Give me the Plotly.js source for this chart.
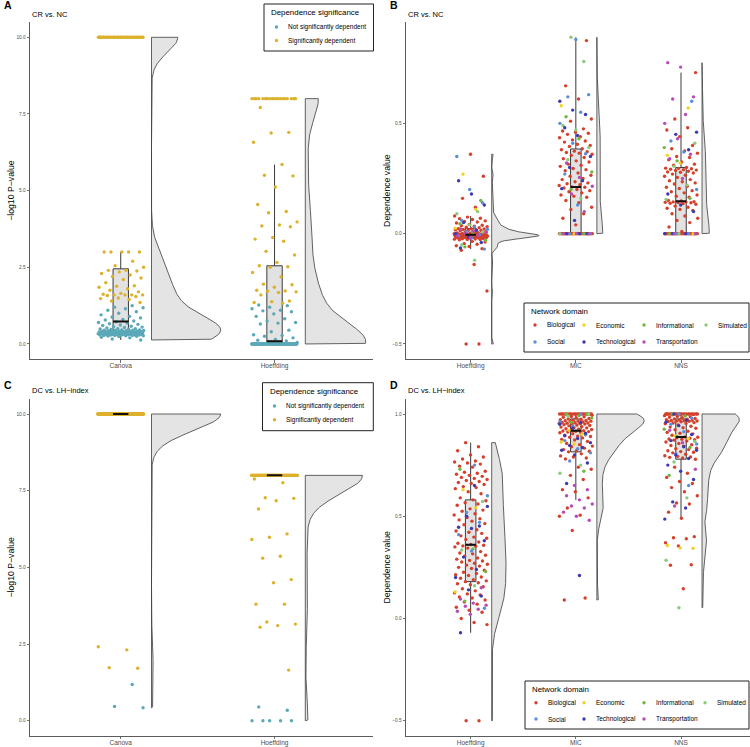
<!DOCTYPE html>
<html><head><meta charset="utf-8">
<script src="https://cdn.plot.ly/plotly-3.0.1.min.js"></script>
<style>html,body{margin:0;padding:0;background:#fff}#chart{width:750px;height:747px}</style>
</head><body><div id="chart"></div>
<script>
// ---------- categories / labels ----------
const pvalMethods = ['Canova', 'Hoeffding'];
const depMethods = ['Hoeffding', 'MIC', 'NNS'];
const sigLevels = ['Not significantly dependent', 'Significantly dependent'];
const domains = ['Biological', 'Economic', 'Informational', 'Simulated', 'Social', 'Technological', 'Transportation'];
const pTickVals = [0, 2.5, 5, 7.5, 10];
const pTickText = ['0.0', '2.5', '5.0', '7.5', '10.0'];
const bTickVals = [-0.5, 0, 0.5];
const bTickText = ['\u22120.5', '0.0', '0.5'];
const dTickVals = [-0.5, 0, 0.5, 1];
const dTickText = ['\u22120.5', '0.0', '0.5', '1.0'];

// ---------- Panel A: CR vs. NC, -log10 P-value ----------
const aCanovaSig = [10,10,10,10,10,10,10,10,10,10,10,10,10,10,10,10,10,10,10,10,10,10,10,10,10,10,10,10,10,10,10,10,10,10,10,
3,3,3,3,3,2.7,2.55,2.5,2.4,2.4,2.38,2.35,2.3,2.25,2.2,2.15,2.1,2.0,1.9,1.88,1.85,1.8,1.75,1.7,1.65,1.62,1.6,1.6,1.6,1.6,1.58,1.55,1.5,1.48,1.45,1.4,1.35];
const aCanovaNotSig = [1.25,1.2,1.18,1.15,1.1,1.05,1.0,0.95,0.9,0.88,0.85,0.8,0.78,0.75,
0.72,0.7,0.68,0.66,0.64,0.62,0.6,0.58,0.56,0.55,0.54,0.52,0.5,0.5,0.49,0.48,0.47,0.46,0.46,0.45,0.45,0.44,0.44,0.43,0.43,0.42,0.42,0.42,0.41,0.41,0.41,0.4,0.4,0.4,0.4,0.39,0.39,0.39,0.38,0.38,0.38,0.37,0.37,
0.36,0.36,0.36,0.35,0.35,0.35,0.35,0.34,0.34,0.34,0.34,0.33,0.33,0.33,0.33,0.32,0.32,0.32,0.32,0.31,0.31,0.31,0.31,0.3,0.3,0.3,0.3,0.3,0.29,0.29,0.29,0.28,0.28,0.28,0.27,0.27,0.26,0.25,0.24,0.22,0.2,0.16,0.13];
const aHoeffSig = [8,8,8,8,8,8,8,8,8,8,8,8,8,8,8,8,8,8,8,
7.71,6.9,6.88,6.58,5.85,5.5,5.48,5.12,4.55,4.32,4.28,3.98,3.88,3.85,3.82,3.47,3.42,3.35,3.02,2.9,2.66,2.55,2.52,2.5,
2.33,2.19,1.95,1.93,1.85,1.75,1.73,1.72,1.7,1.68,1.6,1.4,1.38,1.35,1.33];
const aHoeffNotSig = [1.27,1.25,1.2,1.15,1.1,1.08,1.05,0.98,0.9,0.82,0.75,0.7,0.68,0.65,0.45,0.4,0.3,0.28,0.25,0.2,0.15,0.12,0.1,0.08,0.05,
0,0,0,0,0,0,0,0,0,0,0,0,0,0,0,0,0,0,0,0,0,0,0,0,0,0,0,0,0,0,0,0,0,0,0,0,0,0,0,0,0,0,0,0,0,0,0,0,0,0,0,0,0,0,0,0,0,0,0,0,0,0,0,0,0,0,0,0,0,0,0,0,0,0,0,0,0,0,0];

// ---------- Panel C: DC vs. LH-index, -log10 P-value ----------
const cCanovaSig = [10,10,10,10,10,10,10,10,10,10,10,10,10,10,10,10,10,10,10,10,10,10,10,10,10,10,10,10,10,10,10,10,10,10,10,10,10,10,10,10,
10,10,10,10,10,10,10,10,10,10,10,10,10,10,10,10,10,10,10,10,10,10,10,10,10,10,10,10,10,10,10,10,10,10,10,10,10,10,10,10,
10,10,10,10,10,10,10,10,10,10,10,10,10,10,10,10,10,10,10,10,10,10,10,10,10,10,10,10,10,10,10,10,10,10,10,10,10,10,10,10,
10,10,10,10,10,10,10,10,10,10,10,10,10,10,10,10,10,10,10,10,10,10,10,10,10,10,10,10,10,10,10,10,10,10,10,10,10,10,10,10,
10,10,10,10,10,2.41,2.31,1.73,1.71];
const cCanovaNotSig = [1.18,0.46,0.42];
const cHoeffSig = [8,8,8,8,8,8,8,8,8,8,8,8,8,8,8,8,8,8,8,8,8,8,8,8,8,8,8,8,8,8,8,8,8,8,8,8,8,8,8,8,
8,8,8,8,8,8,8,8,8,8,8,8,8,8,8,8,8,8,8,8,8,8,8,8,8,8,8,8,8,8,8,8,8,8,8,8,8,8,8,8,
8,8,8,8,8,8,8,8,8,8,8,8,8,8,8,8,8,8,8,8,8,8,8,8,8,8,8,8,8,8,8,8,8,8,8,8,8,8,8,8,
8,8,8,8,8,8,8,8,8,8,8,8,8,8,8,8,8,8,8,8,8,8,8,8,8,
7.88,7.76,7.27,7.25,7.17,6.9,6.09,5.98,5.91,5.36,5.3,4.6,4.5,3.8,3.8,3.22,3.15,3.1,3.05,1.65];
const cHoeffNotSig = [0.45,0.34,0,0,0,0,0];

// ---------- Panel B: CR vs. NC, dependence values by network domain ----------
const bHoefBio = [-0.5,-0.5,-0.26,-0.14,-0.075,-0.068,-0.058,-0.055,-0.048,-0.045,-0.038,-0.035,
-0.028,-0.027,-0.026,-0.025,-0.024,-0.023,-0.022,-0.021,-0.019,-0.019,-0.018,-0.018,-0.017,-0.017,-0.016,-0.016,
-0.015,-0.014,-0.014,-0.014,-0.013,-0.013,-0.013,-0.012,-0.012,-0.012,-0.011,-0.011,-0.011,-0.01,-0.01,-0.009,-0.009,-0.009,-0.009,-0.008,-0.008,-0.008,-0.007,-0.007,-0.007,-0.007,-0.006,-0.006,-0.006,-0.006,-0.006,-0.005,-0.005,
-0.005,-0.004,-0.004,-0.003,-0.003,-0.002,-0.002,-0.001,-0.001,0,0.001,0.001,0.002,0.002,0.003,0.004,0.007,0.009,0.011,0.013,0.014,0.016,0.017,0.018,0.019,0.021,0.022,
0.023,0.027,0.029,0.032,0.034,0.036,0.038,0.042,0.048,0.053,0.055,0.058,0.064,0.068,0.07,0.075,0.08,0.12,0.16,0.26,0.36];
const bHoefEco = [0.025,0.11,0.27];
const bHoefInf = [-0.06,-0.03,0.005,0.045,0.15];
const bHoefSim = [-0.12,-0.05,0.008,0.04,0.09,0.1];
const bHoefSoc = [-0.07,-0.02,-0.01,-0.005,0.01,0.02,0.03,0.06,0.14,0.2,0.35];
const bHoefTec = [-0.065,-0.04,-0.015,0,0.015,0.05,0.13,0.18,0.24];
const bHoefTra = [-0.02,-0.01,-0.008,0,0.006,0.012,0.021];

const bMicBio = [0,0,0,0,0,0,0,0,0,0,0,0,0,0,0,0,0,0,0,0,0,0,0,0,0,0,0,0,0,0,0,0,0,0,0,0,0,0,0,0,0,
0.04,0.07,0.09,0.11,0.12,0.14,0.15,0.165,0.17,0.175,0.185,0.19,0.195,0.2,0.207,0.21,
0.212,0.218,0.222,0.226,0.23,0.235,0.245,0.25,0.26,0.265,0.275,0.285,0.29,0.295,0.305,0.31,0.315,0.325,0.33,0.34,0.345,0.355,0.36,0.365,0.368,0.371,0.374,
0.38,0.385,0.395,0.4,0.405,0.415,0.42,0.425,0.435,0.44,0.45,0.455,0.46,0.465,0.475,0.51,0.52,0.61,0.67,0.875];
const bMicEco = [0,0.58];
const bMicInf = [0,0.2,0.28,0.43,0.53];
const bMicSim = [0,0.16,0.335,0.39,0.47,0.49,0.78,0.89];
const bMicSoc = [0,0,0.13,0.27,0.362,0.41,0.5,0.55,0.62,0.63,0.88];
const bMicTec = [0,0,0,0.06,0.204,0.24,0.3,0.35,0.445,0.48,0.54,0.56,0.6];
const bMicTra = [0,0,0,0.1,0.18,0.215,0.255,0.32];

const bNnsBio = [0,0,0,0,0,0,0,0,0,0,0,0,0,0,0,0,0,0,0,0,0,0,0,0,0,0,0,0,0,0,0,0,0,0,0,0,0,0,0,0,0,0,
0.01,0.03,0.05,0.06,0.07,0.08,0.09,0.105,0.11,0.115,0.12,0.125,0.133,0.136,0.138,0.14,0.141,0.142,0.143,0.144,0.145,
0.148,0.15,0.165,0.17,0.175,0.185,0.19,0.195,0.205,0.21,0.215,0.225,0.23,0.235,0.24,0.245,0.255,0.26,0.265,0.27,0.275,0.278,0.28,0.283,0.286,0.288,0.29,0.292,0.294,0.296,0.297,
0.3,0.31,0.315,0.325,0.335,0.345,0.35,0.365,0.375,0.385,0.4,0.44,0.47,0.48,0.52,0.73];
const bNnsEco = [0,0.32,0.355,0.57];
const bNnsInf = [0,0.16,0.33,0.39];
const bNnsSim = [0,0.155,0.22,0.305,0.41];
const bNnsSoc = [0,0,0.2,0.37,0.42,0.6];
const bNnsTec = [0,0,0,0.1,0.13,0.18,0.38,0.45,0.46];
const bNnsTra = [0,0,0.25,0.34,0.36,0.43,0.5,0.54,0.61,0.62,0.755,0.775];

// ---------- Panel D: DC vs. LH-index, dependence values by network domain ----------
const dHoefBio = [-0.5,-0.5,-0.03,-0.02,0.0,0.03,0.04,0.055,0.07,0.08,0.09,0.1,0.105,0.115,0.12,0.125,0.135,0.145,0.155,0.165,0.17,0.175,0.18,
0.184,0.19,0.197,0.203,0.21,0.214,0.22,0.226,0.236,0.244,0.25,0.256,0.261,0.265,0.27,0.276,0.281,0.284,0.29,0.296,0.305,0.309,0.316,0.32,0.327,0.344,0.35,0.353,0.355,0.358,
0.362,0.368,0.374,0.386,0.392,0.398,0.404,0.416,0.422,0.428,0.434,0.458,0.464,0.476,0.482,0.488,0.494,0.506,0.512,0.524,0.53,0.536,0.554,0.56,0.566,0.576,
0.58,0.59,0.61,0.62,0.635,0.64,0.645,0.655,0.66,0.665,0.67,0.675,0.68,0.685,0.69,0.695,0.7,0.705,0.71,0.715,0.72,0.74,0.745,0.755,0.76,0.765,0.77,0.78,0.79,0.8,0.82,0.84,0.86];
const dHoefEco = [0.13,0.542,0.63];
const dHoefInf = [0.085,0.23,0.34,0.73];
const dHoefSim = [0.16,0.335,0.572];
const dHoefSoc = [0.05,0.33,0.41,0.47,0.518,0.6,0.75];
const dHoefTec = [-0.07,0.11,0.14,0.2,0.24,0.3,0.38,0.44,0.446,0.452,0.5,0.548,0.65];
const dHoefTra = [0.02,0.035,0.045,0.06,0.065,0.075,0.095,0.15];

const dMicBio = [0.09,0.1,0.43,0.5,0.505,0.54,
0.59,0.62,0.63,0.68,0.7,0.73,0.74,0.78,0.785,0.79,0.795,0.805,0.815,
0.818,0.82,0.826,0.833,0.84,0.843,0.85,0.856,0.866,0.873,0.876,0.883,0.886,0.89,0.892,0.896,0.898,0.904,0.908,0.91,0.912,0.914,0.916,0.917,
0.918,0.922,0.924,0.926,0.928,0.932,0.934,0.936,0.938,0.942,0.944,0.946,0.948,0.951,0.952,0.953,0.954,0.955,0.956,0.957,0.959,0.961,0.963,0.965,0.966,0.967,0.968,0.97,0.972,0.974,
0.976,0.978,0.982,0.984,0.986,0.988,0.994,0.996,0.998,1,1,1,1,1,1,1,1,1,1,1,1,1,1,1,1,1,1,1,1,1,1];
const dMicEco = [0.853,0.863,0.902,0.92];
const dMicInf = [0.72,0.96,0.98,0.992,1,1];
const dMicSim = [0.71,0.75,0.99,1];
const dMicSoc = [0.77,0.81,0.83,0.87,0.9,0.94,0.962,1];
const dMicTec = [0.21,0.66,0.76,0.8,0.823,0.836,0.846,0.86,0.88,0.894,0.906,0.93,0.95,0.958];
const dMicTra = [0.48,0.5,0.52,0.54,0.55,0.56,0.58,0.6,0.63,0.65];

const dNnsBio = [0.145,0.26,0.263,0.355,0.37,0.39,0.395,0.4,
0.49,0.52,0.56,0.565,0.6,0.62,0.64,0.66,0.67,0.69,0.71,0.74,0.779,
0.785,0.788,0.79,0.793,0.796,0.803,0.81,0.813,0.816,0.82,0.826,0.83,0.833,0.843,0.846,0.85,0.856,0.863,0.868,0.872,0.874,0.876,0.878,0.882,0.884,0.886,
0.888,0.896,0.903,0.906,0.91,0.916,0.923,0.93,0.933,0.936,0.94,0.946,0.952,0.954,0.956,0.958,0.962,0.963,0.964,0.965,0.966,0.967,0.968,0.969,0.971,0.972,0.974,
0.976,0.978,0.982,0.984,0.986,0.988,0.992,0.994,0.996,0.998,1,1,1,1,1,1,1,1,1,1,1,1,1,1,1,1,1,1,1,1,1,1,1];
const dNnsEco = [0.343,0.345,0.357,0.88,0.893];
const dNnsInf = [0.7,0.836,0.89,0.926,0.99,1];
const dNnsSim = [0.052,0.285,0.59,0.765,0.866];
const dNnsSoc = [0.65,0.806,0.853,0.913,0.95,0.98,1];
const dNnsTec = [0.486,0.54,0.57,0.68,0.72,0.75,0.782,0.8,0.823,0.84,0.87,0.9,0.943,0.96,0.97,1];
const dNnsTra = [0.55,0.73,0.86,0.92];

// ---------- styles ----------
const sigColors = ['#5AA8B8', '#DDB12C'];
const domainColors = ['#D6402B', '#F2D01E', '#73B63F', '#8CCB7E', '#5B8EDB', '#3D3AB0', '#B64DB6'];
const FONT = 'Liberation Sans, Arial, Helvetica, sans-serif';

// ---------- helpers (statistics computed from the data arrays) ----------
function q7(s, p) { const h = (s.length - 1) * p, lo = Math.floor(h), hi = Math.ceil(h); return s[lo] + (s[hi] - s[lo]) * (h - lo); }
function nrd0(v) {
  const s = v.slice().sort((a, b) => a - b), n = s.length;
  const m = s.reduce((a, b) => a + b, 0) / n;
  const sd = Math.sqrt(s.reduce((a, b) => a + (b - m) * (b - m), 0) / (n - 1));
  let lo = Math.min(sd, (q7(s, 0.75) - q7(s, 0.25)) / 1.34);
  if (!(lo > 0)) lo = sd || Math.abs(s[0]) || 1;
  return 0.9 * lo * Math.pow(n, -0.2);
}
function kde(v, npts) {
  const bw = nrd0(v), mn = Math.min(...v), mx = Math.max(...v);
  const c = 1 / (v.length * bw * Math.sqrt(2 * Math.PI));
  const ys = [], ds = [];
  for (let j = 0; j < npts; j++) {
    const y = mn + (mx - mn) * j / (npts - 1);
    let s = 0;
    for (const x of v) { const z = (y - x) / bw; s += Math.exp(-0.5 * z * z); }
    ys.push(y); ds.push(s * c);
  }
  return { ys, ds };
}
function jit(i, seed, w) { const f = ((i + 1) * 0.6180339887498949 + seed) % 1; return w * (2 * f - 1); }

const traces = [];
function addPanel(ax, ay, perCat, names, colors, jw) {
  const all = perCat.map(levels => [].concat(...levels));
  // half violins (density, scale = area across the panel)
  const dens = all.map(v => kde(v, 400));
  const maxD = Math.max(...dens.map(d => Math.max(...d.ds)));
  dens.forEach((d, k) => {
    const x0 = k + 1 + 0.2, xs = [x0], ys = [d.ys[0]];
    d.ys.forEach((y, j) => { xs.push(x0 + 0.45 * d.ds[j] / maxD); ys.push(y); });
    xs.push(x0, x0); ys.push(d.ys[d.ys.length - 1], d.ys[0]);
    traces.push({ type: 'scatter', mode: 'lines', x: xs, y: ys, xaxis: ax, yaxis: ay, fill: 'toself',
      fillcolor: '#E4E4E4', line: { color: '#3C3C3C', width: 0.8 }, showlegend: false, hoverinfo: 'skip' });
  });
  // boxplots
  const bx = [], by = [];
  all.forEach((v, k) => v.forEach(y => { bx.push(k + 1); by.push(y); }));
  traces.push({ type: 'box', x: bx, y: by, xaxis: ax, yaxis: ay, width: 0.1, boxpoints: 'outliers',
    marker: { color: 'rgba(0,0,0,0)', size: 1 }, whiskerwidth: 0, fillcolor: '#E2E2E2',
    line: { color: '#3A3A3A', width: 1 }, showlegend: false, hoverinfo: 'skip' });
  // jittered points
  names.forEach((nm, li) => {
    const xs = [], ys = [];
    perCat.forEach((levels, k) => levels[li].forEach((y, i) => { xs.push(k + 1 + jit(i, 0.13 + 0.29 * li + 0.41 * k, jw)); ys.push(y); }));
    traces.push({ type: 'scatter', mode: 'markers', x: xs, y: ys, xaxis: ax, yaxis: ay, name: nm,
      marker: { color: colors[li], size: 3.4 }, showlegend: false, hoverinfo: 'skip' });
  });
  // thick median line
  const mx = [], my = [];
  all.forEach((v, k) => { const s = v.slice().sort((a, b) => a - b); const m = q7(s, 0.5); mx.push(k + 0.95, k + 1.05, null); my.push(m, m, null); });
  traces.push({ type: 'scatter', mode: 'lines', x: mx, y: my, xaxis: ax, yaxis: ay, line: { color: '#111', width: 2 }, showlegend: false, hoverinfo: 'skip' });
}

addPanel('x', 'y', [[aCanovaNotSig, aCanovaSig], [aHoeffNotSig, aHoeffSig]], sigLevels, sigColors, 0.15);
addPanel('x2', 'y2', [
  [bHoefBio, bHoefEco, bHoefInf, bHoefSim, bHoefSoc, bHoefTec, bHoefTra],
  [bMicBio, bMicEco, bMicInf, bMicSim, bMicSoc, bMicTec, bMicTra],
  [bNnsBio, bNnsEco, bNnsInf, bNnsSim, bNnsSoc, bNnsTec, bNnsTra]],
  domains, domainColors, 0.16);
addPanel('x3', 'y3', [[cCanovaNotSig, cCanovaSig], [cHoeffNotSig, cHoeffSig]], sigLevels, sigColors, 0.15);
addPanel('x4', 'y4', [
  [dHoefBio, dHoefEco, dHoefInf, dHoefSim, dHoefSoc, dHoefTec, dHoefTra],
  [dMicBio, dMicEco, dMicInf, dMicSim, dMicSoc, dMicTec, dMicTra],
  [dNnsBio, dNnsEco, dNnsInf, dNnsSim, dNnsSoc, dNnsTec, dNnsTra]],
  domains, domainColors, 0.16);

// ---------- layout ----------
const axBase = { showline: true, linecolor: '#333', linewidth: 0.8, ticks: 'outside', ticklen: 2.5, tickwidth: 0.7,
  tickcolor: '#333', showgrid: false, zeroline: false, fixedrange: true };
const xFont = { size: 6.5, color: '#4D4D4D', family: FONT };
const yFont = { size: 4.8, color: '#4D4D4D', family: FONT };
const yTitleFont = { size: 8.7, color: '#000', family: FONT };
const topY = [0.519, 0.9706], botY = [0.0147, 0.4663], leftX = [0.04, 0.4973], rightX = [0.5413, 1];

const ann = (text, xPx, yPx, size, bold) => ({ text: bold ? '<b>' + text + '</b>' : text, x: xPx / 750, y: 1 - yPx / 747,
  xref: 'paper', yref: 'paper', xanchor: 'left', yanchor: 'middle', showarrow: false, font: { size: size, family: FONT, color: '#000' } });

const shapes = [], annotations = [
  ann('A', 1.5, 5.5, 10.5, true), ann('CR vs. NC', 30, 14.5, 7.5),
  ann('B', 388, 5.5, 10.5, true), ann('CR vs. NC', 406, 14.5, 7.5),
  ann('C', 1.5, 385, 10.5, true), ann('DC vs. LH\u2212index', 30, 391, 7.5),
  ann('D', 388, 385, 10.5, true), ann('DC vs. LH\u2212index', 406, 391, 7.5)
];
function legendBox(x0, x1, y0, y1, title, titleY, labels, colors, rowY, dotX, ncol) {
  shapes.push({ type: 'rect', xref: 'paper', yref: 'paper', x0: x0 / 750, x1: x1 / 750, y0: 1 - y1 / 747, y1: 1 - y0 / 747,
    line: { color: '#222', width: 1 }, fillcolor: '#fff', layer: 'above' });
  annotations.push(ann(title, x0 + 5, titleY, 7.9));
  labels.forEach((nm, i) => {
    const cx = dotX[i % ncol], cy = rowY[Math.floor(i / ncol)], r = 1.7;
    shapes.push({ type: 'circle', xref: 'paper', yref: 'paper', x0: (cx - r) / 750, x1: (cx + r) / 750, y0: 1 - (cy + r) / 747, y1: 1 - (cy - r) / 747,
      fillcolor: colors[i], line: { width: 0 }, layer: 'above' });
    annotations.push(ann(nm, cx + 9.5, cy, 6.5));
  });
}
legendBox(264, 373.5, 4, 51, 'Dependence significance', 13, sigLevels, sigColors, [27, 40.5], [276.5], 1);
legendBox(262.5, 373.3, 382.7, 430.7, 'Dependence significance', 391.3, sigLevels, sigColors, [406, 419.7], [274.5], 1);
legendBox(524, 749, 303, 352, 'Network domain', 311, domains, domainColors, [325, 342], [535, 584, 644, 706], 4);
legendBox(525, 749, 681, 729, 'Network domain', 689, domains, domainColors, [702.7, 719], [536, 584, 644, 705], 4);

const xAx = (dom, rng, vals, txt, anchor) => Object.assign({}, axBase, { domain: dom, range: rng, tickvals: vals, ticktext: txt, tickfont: xFont, anchor: anchor, ticklabelstandoff: -2 });
const yAx = (dom, rng, vals, txt, anchor, title) => Object.assign({}, axBase, { domain: dom, range: rng, tickvals: vals, ticktext: txt, tickfont: yFont, anchor: anchor,
  title: { text: title, font: yTitleFont, standoff: 0 } });

const layout = {
  width: 750, height: 747, margin: { l: 0, r: 0, t: 0, b: 0, autoexpand: false }, paper_bgcolor: '#fff', plot_bgcolor: '#fff',
  font: { family: FONT, color: '#000' }, showlegend: false,
  xaxis: xAx(leftX, [0.41, 2.64], [1, 2], pvalMethods, 'y'),
  yaxis: yAx(topY, [-0.5, 10.5], pTickVals, pTickText, 'x', '\u2212log10 P\u2212value'),
  xaxis2: xAx(rightX, [0.385, 3.656], [1, 2, 3], depMethods, 'y2'),
  yaxis2: yAx(topY, [-0.5695, 0.9595], bTickVals, bTickText, 'x2', 'Dependence value'),
  xaxis3: xAx(leftX, [0.41, 2.64], [1, 2], pvalMethods, 'y3'),
  yaxis3: yAx(botY, [-0.5, 10.5], pTickVals, pTickText, 'x3', '\u2212log10 P\u2212value'),
  xaxis4: xAx(rightX, [0.385, 3.656], [1, 2, 3], depMethods, 'y4'),
  yaxis4: yAx(botY, [-0.575, 1.075], dTickVals, dTickText, 'x4', 'Dependence value'),
  shapes: shapes,
  annotations: annotations
};

Plotly.newPlot('chart', traces, layout, { staticPlot: true, displayModeBar: false });
</script>
</body></html>
